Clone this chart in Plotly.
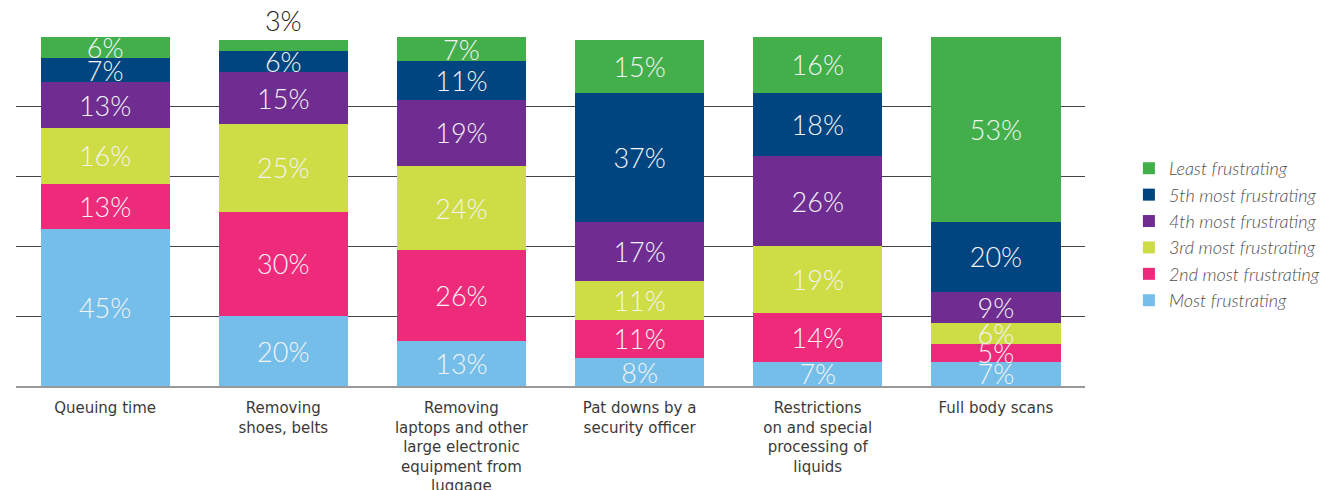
import plotly.graph_objects as go

categories = [
    "Queuing time",
    "Removing<br>shoes, belts",
    "Removing<br>laptops and other<br>large electronic<br>equipment from<br>luggage",
    "Pat downs by a<br>security officer",
    "Restrictions<br>on and special<br>processing of<br>liquids",
    "Full body scans",
]

series_names = [
    "Most frustrating",
    "2nd most frustrating",
    "3rd most frustrating",
    "4th most frustrating",
    "5th most frustrating",
    "Least frustrating",
]

most = [45, 20, 13, 8, 7, 7]
second = [13, 30, 26, 11, 14, 5]
third = [16, 25, 24, 11, 19, 6]
fourth = [13, 15, 19, 17, 26, 9]
fifth = [7, 6, 11, 37, 18, 20]
least = [6, 3, 7, 15, 16, 53]

series_values = [most, second, third, fourth, fifth, least]
colors = ["#74BEE9", "#EE2A7B", "#CEDC45", "#6F2C91", "#004480", "#43AF4A"]

FONT = "Lato"
TICK_FONT = "DejaVu Sans"

fig = go.Figure()
for name, vals, col in zip(series_names, series_values, colors):
    if name == "Least frustrating":
        positions = ["outside" if v < 5 else "inside" for v in vals]
    else:
        positions = "inside"
    fig.add_trace(go.Bar(
        name=name,
        legendgroup=name,
        x=categories,
        y=vals,
        marker=dict(color=col, line=dict(width=0)),
        text=[f"{v}%" for v in vals],
        textposition=positions,
        insidetextanchor="middle",
        textangle=0,
        insidetextfont=dict(family=FONT, size=27, color="#F4F4F4", weight=300),
        outsidetextfont=dict(family=FONT, size=27, color="#222222", weight=300),
        cliponaxis=False,
    ))

fig.update_layout(
    barmode="stack",
    bargap=0.275,
    width=1336,
    height=482,
    margin=dict(l=8, r=259, t=29, b=104, autoexpand=False),
    paper_bgcolor="white",
    plot_bgcolor="white",
    font=dict(family=FONT, color="#333333"),
    uniformtext=dict(minsize=27, mode="show"),
    showlegend=True,
    legend=dict(
        traceorder="reversed",
        x=0.839, xref="container", xanchor="left",
        y=0.434, yanchor="middle",
        font=dict(family=FONT, size=18, color="#505050", style="italic", weight=300),
        tracegroupgap=6,
        itemwidth=30,
        bgcolor="rgba(0,0,0,0)",
    ),
    xaxis=dict(
        showline=True, linecolor="#999999", linewidth=2,
        tickfont=dict(family=TICK_FONT, size=15, color="#3a3a3a"),
        ticks="", showgrid=False, automargin=False,
        ticklabelstandoff=7,
    ),
    yaxis=dict(
        range=[0, 100], dtick=20, showticklabels=False,
        showgrid=True, gridcolor="#444444", gridwidth=1,
        zeroline=False, ticks="", automargin=False,
    ),
)

fig.write_html("out.html")
